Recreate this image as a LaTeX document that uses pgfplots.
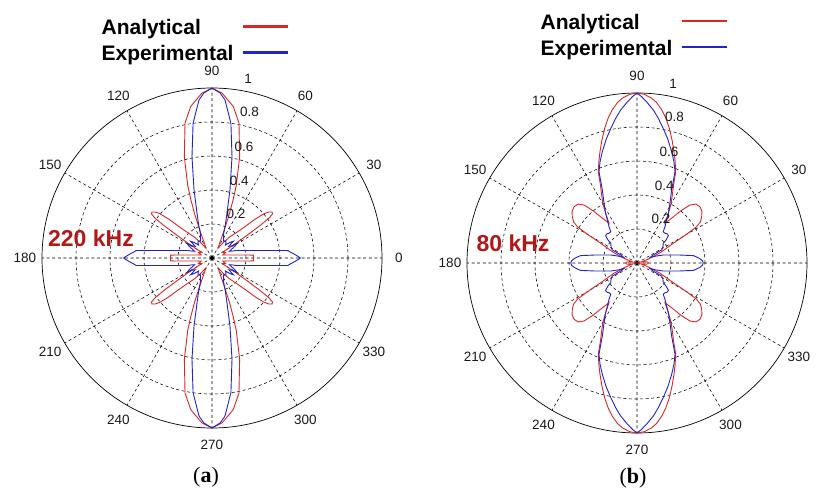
\documentclass[border=0pt]{standalone}
\usepackage{fontspec}
\setmainfont{Liberation Sans}
\newfontfamily\seriffont{Liberation Serif}
\usepackage{pgfplots}
\pgfplotsset{compat=1.18}
\usepackage{pgfplotstable}
\usepgfplotslibrary{polar}
\definecolor{anared}{RGB}{215,40,40}
\definecolor{expblue}{RGB}{35,35,200}
\definecolor{khzred}{RGB}{178,24,24}

% one quadrant (0..90 deg) of each curve; the patterns are mirror-symmetric
\pgfplotstableread{
a r
0 0.243
2 0.244
4 0.244
5 0.203
6 0.169
8 0.127
10 0.102
13 0.080
16 0.066
19 0.072
22 0.085
25 0.078
28 0.070
30 0.100
31.5 0.160
33 0.250
34 0.340
35 0.410
36 0.440
37.5 0.445
39 0.430
40.5 0.400
42 0.340
43.5 0.270
46 0.210
50 0.160
54 0.110
58 0.070
62 0.090
65 0.140
67 0.200
68.5 0.280
70 0.360
71.5 0.450
74.7 0.616
78.7 0.810
82 0.900
86.5 0.972
90 1.000
}\redA

\pgfplotstableread{
a r
0 0.520
1.5 0.500
3 0.480
4.5 0.460
5.6 0.449
6.5 0.390
7.5 0.338
9 0.282
11 0.231
13 0.196
15 0.170
17 0.152
19 0.125
21 0.110
24 0.125
27 0.150
30 0.170
32 0.130
35 0.120
38 0.160
41 0.140
44 0.110
47 0.120
51 0.130
55 0.120
59 0.130
62 0.145
64.7 0.161
68 0.210
71.5 0.277
75.2 0.414
78.8 0.606
82 0.800
85.3 0.933
87.2 0.972
90 1.000
}\blueA

\pgfplotstableread{
a r
0 0.065
4 0.065
7 0.055
10 0.035
13 0.020
16 0.040
20 0.080
24 0.150
28.5 0.243
30 0.330
31.3 0.410
33 0.445
35.6 0.468
38.5 0.488
41.8 0.497
45 0.490
47.6 0.462
50 0.400
52 0.340
54.8 0.286
57.8 0.346
60 0.400
62.5 0.450
65 0.510
67 0.583
69.5 0.640
71.6 0.690
74 0.750
76.5 0.815
78.7 0.868
80.8 0.912
83 0.950
84.9 0.973
87.5 0.993
90 1.000
}\redB

\pgfplotstableread{
a r
0 0.390
2 0.385
4 0.370
6 0.350
7.5 0.334
9 0.290
10.5 0.257
13.7 0.200
16.9 0.162
20 0.120
23 0.085
26 0.100
28 0.165
32 0.180
36.8 0.193
38.4 0.218
41 0.245
43.7 0.247
47 0.240
50 0.240
52.4 0.270
55.4 0.307
58 0.350
61.1 0.401
64.6 0.475
67.4 0.582
70 0.635
72.7 0.686
76 0.750
79 0.807
81.6 0.860
83.9 0.905
86.6 0.950
88.5 0.980
90 1.000
}\blueB

\pgfplotsset{
  mypolar/.style={
    scale only axis, width=340pt, height=340pt, anchor=center,
    xmin=0, xmax=360, ymin=0, ymax=1,
    xtick={0,30,...,330}, ytick={0.2,0.4,0.6,0.8},
    xticklabel=\empty, yticklabel=\empty,
    xmajorgrids, ymajorgrids,
    major grid style={black, line width=0.55pt, dash pattern=on 3pt off 2.6pt},
    separate axis lines,
    x axis line style={black, line width=0.7pt},
    y axis line style={draw=none},
    major tick length=0pt,
    clip=false,
    legend plot pos=right,
    legend cell align=left,
    legend image code/.code={\draw[#1, line width=2.4pt] (0pt,2pt) -- (45pt,2pt);},
    legend style={draw=none, fill=none, inner sep=0pt, anchor=north west,
      font=\fontsize{21}{23}\selectfont\bfseries, row sep=7pt,
      nodes={inner sep=1pt, text height=15pt, text depth=2pt},
      /tikz/every odd column/.append style={column sep=7pt}},
  },
  redline/.style={anared, line width=0.9pt},
  blueline/.style={expblue, line width=0.9pt},
}
\tikzset{anglelab/.style={font=\fontsize{13.5}{14}\selectfont, text=black!90, inner sep=0pt}}

\begin{document}
\begin{tikzpicture}
\path[use as bounding box] (0pt,0pt) rectangle (820pt,491pt);

% ---------------- (a) 220 kHz ----------------
\begin{polaraxis}[mypolar, at={(212pt,233pt)},
  legend style={at={(axis description cs:0.172,1.204)}}]
\addplot[redline] table[x=a, y=r] {\redA};
\addplot[blueline] table[x=a, y=r] {\blueA};
\legend{Analytical, Experimental}
\addplot[redline, forget plot] table[x expr=180-\thisrow{a}, y=r] {\redA};
\addplot[redline, forget plot] table[x expr=180+\thisrow{a}, y=r] {\redA};
\addplot[redline, forget plot] table[x expr=360-\thisrow{a}, y=r] {\redA};
\addplot[blueline, forget plot] table[x expr=180-\thisrow{a}, y=r] {\blueA};
\addplot[blueline, forget plot] table[x expr=180+\thisrow{a}, y=r] {\blueA};
\addplot[blueline, forget plot] table[x expr=360-\thisrow{a}, y=r] {\blueA};
\pgfplotsinvokeforeach{0,30,60,90,120,150,180,210,240,270,300,330}{
  \node[anglelab] at (axis cs:#1,1.1) {#1};
}
\node[anglelab] at (axis cs:78.6,1.078) {1};
\node[anglelab] at (axis cs:75.6,0.885) {0.8};
\node[anglelab] at (axis cs:74,0.681) {0.6};
\node[anglelab] at (axis cs:70.5,0.482) {0.4};
\node[anglelab] at (axis cs:61.4,0.295) {0.2};
\end{polaraxis}

% ---------------- (b) 80 kHz ----------------
\begin{polaraxis}[mypolar, at={(637pt,228pt)},
  legend style={at={(axis description cs:0.213,1.234)}}]
\addplot[redline] table[x=a, y=r] {\redB};
\addplot[blueline] table[x=a, y=r] {\blueB};
\legend{Analytical, Experimental}
\addplot[redline, forget plot] table[x expr=180-\thisrow{a}, y=r] {\redB};
\addplot[redline, forget plot] table[x expr=180+\thisrow{a}, y=r] {\redB};
\addplot[redline, forget plot] table[x expr=360-\thisrow{a}, y=r] {\redB};
\addplot[blueline, forget plot] table[x expr=180-\thisrow{a}, y=r] {\blueB};
\addplot[blueline, forget plot] table[x expr=180+\thisrow{a}, y=r] {\blueB};
\addplot[blueline, forget plot] table[x expr=360-\thisrow{a}, y=r] {\blueB};
\pgfplotsinvokeforeach{30,60,90,120,150,180,210,240,270,300,330}{
  \node[anglelab] at (axis cs:#1,1.1) {#1};
}
\node[anglelab] at (axis cs:78.6,1.078) {1};
\node[anglelab] at (axis cs:75.6,0.885) {0.8};
\node[anglelab] at (axis cs:74,0.681) {0.6};
\node[anglelab] at (axis cs:70.5,0.482) {0.4};
\node[anglelab] at (axis cs:61.4,0.295) {0.2};
\end{polaraxis}

\node[font=\fontsize{23}{24}\selectfont\bfseries, text=khzred] at (91pt,253pt) {220 kHz};
\node[font=\fontsize{23}{24}\selectfont\bfseries, text=khzred] at (513pt,248pt) {80 kHz};
\node[font=\seriffont\fontsize{22}{24}\selectfont] at (206pt,14pt) {(\textbf{a})};
\node[font=\seriffont\fontsize{22}{24}\selectfont] at (633pt,13pt) {(\textbf{b})};
\end{tikzpicture}
\end{document}
